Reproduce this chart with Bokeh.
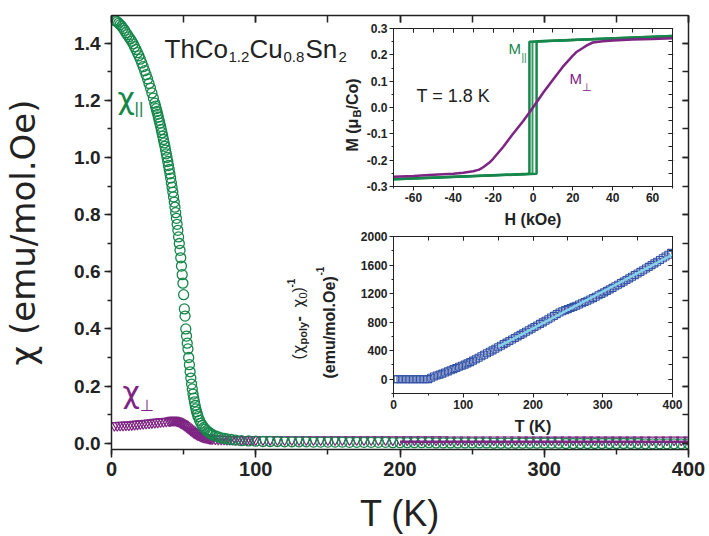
import numpy as np
from bokeh.plotting import figure
from bokeh.models import (Range1d, LinearAxis, SingleIntervalTicker, NumeralTickFormatter, Label,
                          CustomJSTickFormatter)
from bokeh.layouts import column
from bokeh.embed import file_html
from bokeh.resources import INLINE

# ---------------- data: main panel ----------------
T_par = [2, 3, 4, 5, 6, 7, 8, 9, 10, 11, 12, 13, 14, 15, 16, 17, 18, 19, 20, 21, 22, 23, 24, 25, 26, 27, 28, 29, 30,
         30.5, 31, 31.5, 32, 32.5, 33, 33.5, 34, 34.5, 35, 35.5, 36, 36.5, 37, 37.5, 38, 38.5, 39, 39.5, 40,
         40.5, 41, 41.5, 42, 42.5, 43, 43.5, 44, 44.5, 45, 45.5, 46, 46.5, 47, 47.5, 48, 48.5, 49, 49.5, 50,
         50.5, 51, 51.5, 52, 52.5, 53, 53.5, 54, 54.5, 55, 55.5, 56, 56.5, 57, 57.5, 58, 58.5, 59, 59.5, 60,
         61, 62, 63, 64, 65, 66, 67, 68, 69, 70, 72, 74, 76, 78, 80, 83, 86, 90, 95, 100,
         105, 110, 115, 120, 125, 130, 135, 140, 145, 150, 155, 160, 165, 170, 175, 180, 185, 190, 195, 200,
         205, 210, 215, 220, 225, 230, 235, 240, 245, 250, 255, 260, 265, 270, 275, 280, 285, 290, 295, 300,
         305, 310, 315, 320, 325, 330, 335, 340, 345, 350, 355, 360, 365, 370, 375, 380, 385, 390, 395, 400]
chi_par = [1.480, 1.478, 1.475, 1.470, 1.465, 1.459, 1.452, 1.445, 1.437, 1.430, 1.422, 1.415, 1.407, 1.398, 1.388,
           1.378, 1.367, 1.356, 1.344, 1.331, 1.318, 1.304, 1.290, 1.275, 1.259, 1.243, 1.226, 1.208, 1.190,
           1.180, 1.171, 1.161, 1.151, 1.141, 1.130, 1.120, 1.109, 1.098, 1.087, 1.075, 1.063, 1.051, 1.039, 1.026,
           1.013, 1.000, 0.986, 0.972, 0.958, 0.943, 0.928, 0.912, 0.896, 0.879, 0.862, 0.844, 0.826, 0.807, 0.787,
           0.766, 0.745, 0.722, 0.699, 0.675, 0.649, 0.620, 0.590, 0.560, 0.520,
           0.470, 0.445, 0.400, 0.375, 0.350, 0.330, 0.300, 0.275, 0.250, 0.228, 0.207, 0.190, 0.172, 0.158, 0.145,
           0.132, 0.120, 0.110, 0.101, 0.093,
           0.080, 0.070, 0.062, 0.055, 0.049, 0.044, 0.040, 0.036, 0.033, 0.030, 0.026, 0.022, 0.019, 0.017, 0.015,
           0.013, 0.011, 0.009, 0.008, 0.007,
           0.006, 0.006, 0.006, 0.005, 0.005, 0.005, 0.005, 0.004, 0.004, 0.004, 0.004, 0.004, 0.003, 0.003, 0.003,
           0.003, 0.003, 0.003, 0.002, 0.002,
           0.002, 0.002, 0.002, 0.002, 0.001, 0.001, 0.001, 0.001, 0.001, 0.001, 0.001, 0.001, 0.000, 0.000, 0.000,
           0.000, 0.000, 0.000, 0.000, 0.000,
           0.000, 0.000, -0.001, -0.001, -0.001, -0.001, -0.001, -0.001, -0.001, -0.001, -0.001, -0.001, -0.001,
           -0.002, -0.002, -0.002, -0.002, -0.002, -0.002, -0.002]

T_perp = [2, 4, 6, 8, 10, 12, 14, 16, 18, 20, 22, 24, 26, 28, 30, 32, 34, 36, 38, 40,
          41, 42, 43, 44, 45, 46, 47, 48, 49, 50, 51, 52, 53, 54, 55, 56, 57, 58, 59, 60,
          61, 62, 63, 64, 65, 66, 67, 68, 69, 70,
          72, 74, 76, 78, 80, 82, 84, 86, 88, 90, 92, 94, 96, 98, 100,
          105, 110, 115, 120, 125, 130, 135, 140, 145, 150, 155, 160, 165, 170, 175, 180, 185, 190, 195, 200,
          205, 210, 215, 220, 225, 230, 235, 240, 245, 250, 255, 260, 265, 270, 275, 280, 285, 290, 295, 300,
          305, 310, 315, 320, 325, 330, 335, 340, 345, 350, 355, 360, 365, 370, 375, 380, 385, 390, 395, 400]
chi_perp = [0.062, 0.062, 0.063, 0.063, 0.064, 0.064, 0.065, 0.066, 0.067, 0.068, 0.069, 0.070, 0.071, 0.072,
            0.073, 0.074, 0.075, 0.076, 0.077, 0.078,
            0.079, 0.080, 0.080, 0.080, 0.079, 0.077, 0.075, 0.072, 0.069, 0.066, 0.062, 0.058, 0.054, 0.050,
            0.046, 0.042, 0.038, 0.035, 0.032, 0.029,
            0.027, 0.025, 0.023, 0.021, 0.020, 0.019, 0.018, 0.017, 0.016, 0.0155,
            0.015, 0.0145, 0.014, 0.0138, 0.0135, 0.0133, 0.013, 0.013, 0.013, 0.0128, 0.0128, 0.0127, 0.0127,
            0.0126, 0.0126,
            0.0125, 0.0125, 0.0124, 0.0124, 0.0124, 0.0123, 0.0123, 0.0123, 0.0122, 0.0122, 0.0122, 0.0121,
            0.0121, 0.0121, 0.0120, 0.0120, 0.0120, 0.0120, 0.0119, 0.0119,
            0.0119, 0.0119, 0.0118, 0.0118, 0.0118, 0.0118, 0.0117, 0.0117, 0.0117, 0.0117, 0.0117, 0.0116,
            0.0116, 0.0116, 0.0116, 0.0116, 0.0115, 0.0115, 0.0115, 0.0115,
            0.0115, 0.0115, 0.0114, 0.0114, 0.0114, 0.0114, 0.0114, 0.0114, 0.0113, 0.0113, 0.0113, 0.0113,
            0.0113, 0.0113, 0.0113, 0.0112, 0.0112, 0.0112, 0.0112, 0.0112]

T_perp_line = [200, 400]
chi_perp_line = [0.005, 0.005]

# ---------------- data: M(H) inset ----------------
H_up1 = [-70, 1.8, 1.8, 2.5, 70]
M_up1 = [-0.273, -0.252, 0.248, 0.252, 0.272]
H_dn1 = [70, -1.8, -1.8, -2.5, -70]
M_dn1 = [0.272, 0.250, -0.248, -0.252, -0.273]
H_dn2 = [70, -0.25, -0.25, -1.0, -70]
M_dn2 = [0.271, 0.250, -0.250, -0.253, -0.272]
H_perp = [-70, -60, -50, -40, -35, -30, -27, -25, -22, -20, -15, -10, -5, 0,
          5, 10, 15, 20, 22, 25, 27, 30, 35, 40, 50, 60, 70]
M_perp = [-0.263, -0.260, -0.256, -0.252, -0.248, -0.242, -0.236, -0.227, -0.210, -0.195, -0.150, -0.100, -0.052, 0.000,
          0.055, 0.105, 0.155, 0.197, 0.212, 0.226, 0.236, 0.247, 0.252, 0.255, 0.258, 0.260, 0.263]

# ---------------- data: inverse chi inset ----------------
T_inv = [2, 6, 10, 14, 18, 22, 26, 30, 34, 38, 42, 46, 50, 54, 58, 62, 66, 70, 74, 78, 82, 86, 90, 94, 98,
         102, 106, 110, 114, 118, 122, 126, 130, 134, 138, 142, 146, 150, 154, 158, 162, 166, 170, 174, 178,
         182, 186, 190, 194, 198, 202, 206, 210, 214, 218, 222, 226, 230, 234, 238, 242, 246, 250, 254, 258,
         262, 266, 270, 274, 278, 282, 286, 290, 294, 298, 302, 306, 310, 314, 318, 322, 326, 330, 334, 338,
         342, 346, 350, 354, 358, 362, 366, 370, 374, 378, 382, 386, 390, 394, 398]
inv_chi = [0, 0, 0, 0, 0, 0, 0, 0, 0, 0, 0, 0, 2, 20, 38, 52, 64, 78, 94, 110, 126, 142, 158, 174, 188,
           204, 222, 240, 260, 280, 300, 321, 342, 363, 384, 405, 427, 449, 470, 492, 513, 535, 556, 578, 600,
           621, 643, 665, 687, 709, 731, 753, 775, 797, 819, 841, 864, 888, 912, 935, 952, 968, 983, 998, 1014,
           1030, 1047, 1064, 1082, 1100, 1118, 1136, 1156, 1176, 1196, 1217, 1238, 1259, 1280, 1302, 1324, 1346,
           1368, 1390, 1413, 1436, 1459, 1482, 1505, 1528, 1551, 1575, 1599, 1623, 1647, 1671, 1695, 1720, 1745, 1770]
T_fit = [150, 400]
inv_fit = [455, 1745]

GREEN = "#16874a"
PURPLE = "#7e2483"
BLUE = "#3553a6"
CYAN = "#86d3ea"
FONT = "Liberation Sans"
CHI_FONT = "DejaVu Sans"
AX = "#222222"
R = np.pi / 2


def style_axis(ax, size):
    ax.axis_line_color = AX
    ax.major_tick_line_color = AX
    ax.minor_tick_line_color = AX
    ax.major_label_text_font = FONT
    ax.major_label_text_font_size = size
    ax.major_label_text_font_style = "bold"
    ax.major_label_text_color = "#222222"
    ax.axis_label_text_color = "#222222"


def mirror(p, place, ticker, tick_in, width=1.0):
    a = LinearAxis(ticker=ticker, axis_label=None,
                   formatter=CustomJSTickFormatter(code="return ''"))
    a.major_label_text_font_size = "1px"
    a.major_label_standoff = 0
    a.major_tick_in = tick_in
    a.major_tick_out = 0
    a.minor_tick_in = tick_in
    a.minor_tick_out = 0
    a.axis_line_color = AX
    a.major_tick_line_color = AX
    a.minor_tick_line_color = AX
    a.axis_line_width = width
    a.major_tick_line_width = width
    a.minor_tick_line_width = width
    p.add_layout(a, place)
    return a


def lab(fig, ox, oy, text, px, py, size, color="#222222", style="normal", angle=0.0, font=FONT):
    # px, py: picture position; ox, oy: picture position of the frame's bottom-left corner
    fig.add_layout(Label(x=px - ox, y=oy - py, x_units="screen", y_units="screen", text=text,
                         text_font=font, text_font_size=size, text_color=color,
                         text_font_style=style, angle=angle, text_align="left",
                         text_baseline="alphabetic"))


# ---------------- main figure ----------------
BL, BR = 110, 21
p = figure(width=709, height=536, output_backend="svg", toolbar_location=None,
           x_range=Range1d(0, 400), y_range=Range1d(-0.022, 1.497),
           min_border_left=BL, min_border_right=BR, min_border_top=15, min_border_bottom=85)
p.grid.visible = False
p.outline_line_color = None
p.background_fill_color = "white"
p.border_fill_color = "white"

p.scatter(T_perp, chi_perp, marker="inverted_triangle", size=10, fill_color=None,
          line_color=PURPLE, line_width=1.2)
p.scatter(T_par, chi_par, marker="circle", size=10, fill_color=None,
          line_color=GREEN, line_width=1.3)
p.line(T_perp_line, chi_perp_line, line_color=PURPLE, line_width=2.5)

p.xaxis.ticker = SingleIntervalTicker(interval=100, num_minor_ticks=2)
p.yaxis.ticker = SingleIntervalTicker(interval=0.2, num_minor_ticks=2)
p.yaxis.formatter = NumeralTickFormatter(format="0.0")
style_axis(p.xaxis[0], "20px")
style_axis(p.yaxis[0], "19px")
p.xaxis.axis_label = "T (K)"
p.xaxis.axis_label_text_font = FONT
p.xaxis.axis_label_text_font_size = "36px"
p.xaxis.axis_label_text_line_height = 1.0
p.xaxis.major_label_text_line_height = 1.0
p.yaxis.axis_label = "χ (emu/mol.Oe)"
p.yaxis.axis_label_text_font = CHI_FONT
p.yaxis.axis_label_text_font_size = "34px"
for ax in (p.xaxis[0], p.yaxis[0]):
    ax.axis_label_text_font_style = "normal"
    ax.axis_line_width = 1.5
    ax.major_tick_line_width = 1.5
    ax.minor_tick_line_width = 1.5
p.xaxis.major_tick_out = 8
p.xaxis.major_tick_in = 0
p.xaxis.minor_tick_out = 5
p.xaxis.minor_tick_in = 0
p.xaxis.major_label_standoff = 4
p.xaxis.axis_label_standoff = 14
p.yaxis.major_tick_out = 7
p.yaxis.major_tick_in = 0
p.yaxis.minor_tick_out = 4
p.yaxis.minor_tick_in = 0
p.yaxis.major_label_standoff = 4
p.yaxis.axis_label_standoff = 28
mirror(p, "above", SingleIntervalTicker(interval=100, num_minor_ticks=2), 7, 1.5)
mirror(p, "right", SingleIntervalTicker(interval=0.2, num_minor_ticks=2), 6, 1.5)

FX, FY = 110, 451

# title ThCo1.2Cu0.8Sn2
lab(p, FX, FY, "ThCo", 163, 50, "26px")
lab(p, FX, FY, "1.2", 227, 58, "15px")
lab(p, FX, FY, "Cu", 248, 50, "26px")
lab(p, FX, FY, "0.8", 282, 58, "15px")
lab(p, FX, FY, "Sn", 304, 50, "26px")
lab(p, FX, FY, "2", 337, 58, "15px")

# chi labels
lab(p, FX, FY, "χ", 116, 100, "30px", GREEN, font=CHI_FONT)
lab(p, FX, FY, "||", 133, 110, "17px", GREEN)
lab(p, FX, FY, "χ", 121, 394, "30px", PURPLE, font=CHI_FONT)
lab(p, FX, FY, "⊥", 138, 407, "16px", PURPLE)

# inset 1 y label, rotated
lab(p, FX, FY, "M (μ", 351, 153, "16px", style="bold", angle=R)
lab(p, FX, FY, "B", 355, 119, "11px", style="bold", angle=R)
lab(p, FX, FY, "/Co)", 351, 111, "16px", style="bold", angle=R)

# inset 2 y label, two rotated lines
lab(p, FX, FY, "(", 297, 361, "16px", angle=R)
lab(p, FX, FY, "χ", 297, 355, "15px", angle=R, font=CHI_FONT)
lab(p, FX, FY, "poly", 301, 346, "11px", style="bold", angle=R)
lab(p, FX, FY, " - ", 297, 323, "16px", style="bold", angle=R)
lab(p, FX, FY, "χ", 297, 309, "15px", angle=R, font=CHI_FONT)
lab(p, FX, FY, "0", 301, 300, "11px", angle=R)
lab(p, FX, FY, ")", 297, 294, "16px", angle=R)
lab(p, FX, FY, "-1", 289, 289, "10px", style="bold", angle=R)
lab(p, FX, FY, "(emu/mol.Oe)", 328, 380, "16px", style="bold", angle=R)
lab(p, FX, FY, "-1", 318, 277, "10px", style="bold", angle=R)


# ---------------- insets ----------------
def inset(xr, yr, fh):
    q = figure(width=BL + 280 + BR, height=5 + fh + 45, output_backend="svg", toolbar_location=None,
               x_range=xr, y_range=yr,
               min_border_left=BL, min_border_right=BR, min_border_top=5, min_border_bottom=45)
    q.grid.visible = False
    q.outline_line_color = None
    q.background_fill_color = "white"
    q.border_fill_alpha = 0
    return q


def inset_axes(q, xt, yt):
    q.xaxis.ticker = xt
    q.yaxis.ticker = yt
    style_axis(q.xaxis[0], "12px")
    style_axis(q.yaxis[0], "12px")
    q.xaxis.axis_label_text_font = FONT
    q.xaxis.axis_label_text_font_size = "16px"
    q.xaxis.axis_label_text_font_style = "bold"
    for ax in (q.xaxis[0], q.yaxis[0]):
        ax.major_tick_out = 4
        ax.major_tick_in = 0
        ax.minor_tick_out = 2
        ax.minor_tick_in = 0
        ax.major_label_standoff = 2
    q.xaxis.axis_label_standoff = 6
    mirror(q, "above", SingleIntervalTicker(interval=xt.interval, num_minor_ticks=2), 4)
    mirror(q, "right", SingleIntervalTicker(interval=yt.interval, num_minor_ticks=2), 4)


p1 = inset(Range1d(-70, 70), Range1d(-0.3002, 0.3002), 158)
p1.line(H_dn2, M_dn2, line_color=GREEN, line_width=2, line_alpha=0.85)
p1.line(H_up1, M_up1, line_color=GREEN, line_width=2.5)
p1.line(H_dn1, M_dn1, line_color=GREEN, line_width=2.5)
p1.line(H_perp, M_perp, line_color=PURPLE, line_width=2.5)
p1.xaxis.axis_label = "H (kOe)"
inset_axes(p1, SingleIntervalTicker(interval=20, num_minor_ticks=2),
           SingleIntervalTicker(interval=0.1, num_minor_ticks=2))
p1.xaxis.formatter = NumeralTickFormatter(format="0")
p1.yaxis.formatter = NumeralTickFormatter(format="0.0")
I1X, I1Y = 392, 186
lab(p1, I1X, I1Y, "T = 1.8 K", 415, 95, "18px")
lab(p1, I1X, I1Y, "M", 507, 48, "15px", GREEN)
lab(p1, I1X, I1Y, "||", 520, 57, "10px", GREEN)
lab(p1, I1X, I1Y, "M", 568, 78, "15px", PURPLE)
lab(p1, I1X, I1Y, "⊥", 580, 86, "11px", PURPLE)

p2 = inset(Range1d(0, 400), Range1d(-200, 2000), 157)
p2.scatter(T_inv, inv_chi, marker="square", size=7, fill_color=None, line_color=BLUE, line_width=1.1)
p2.line(T_fit, inv_fit, line_color=CYAN, line_width=2.5)
p2.xaxis.axis_label = "T (K)"
inset_axes(p2, SingleIntervalTicker(interval=100, num_minor_ticks=2),
           SingleIntervalTicker(interval=400, num_minor_ticks=2))

p1.styles = {"position": "absolute", "left": "282px", "top": "23px"}
p2.styles = {"position": "absolute", "left": "282px", "top": "231px"}

lay = column(p, p1, p2, styles={"position": "relative"})
open("out.html", "w").write(file_html(lay, INLINE))
